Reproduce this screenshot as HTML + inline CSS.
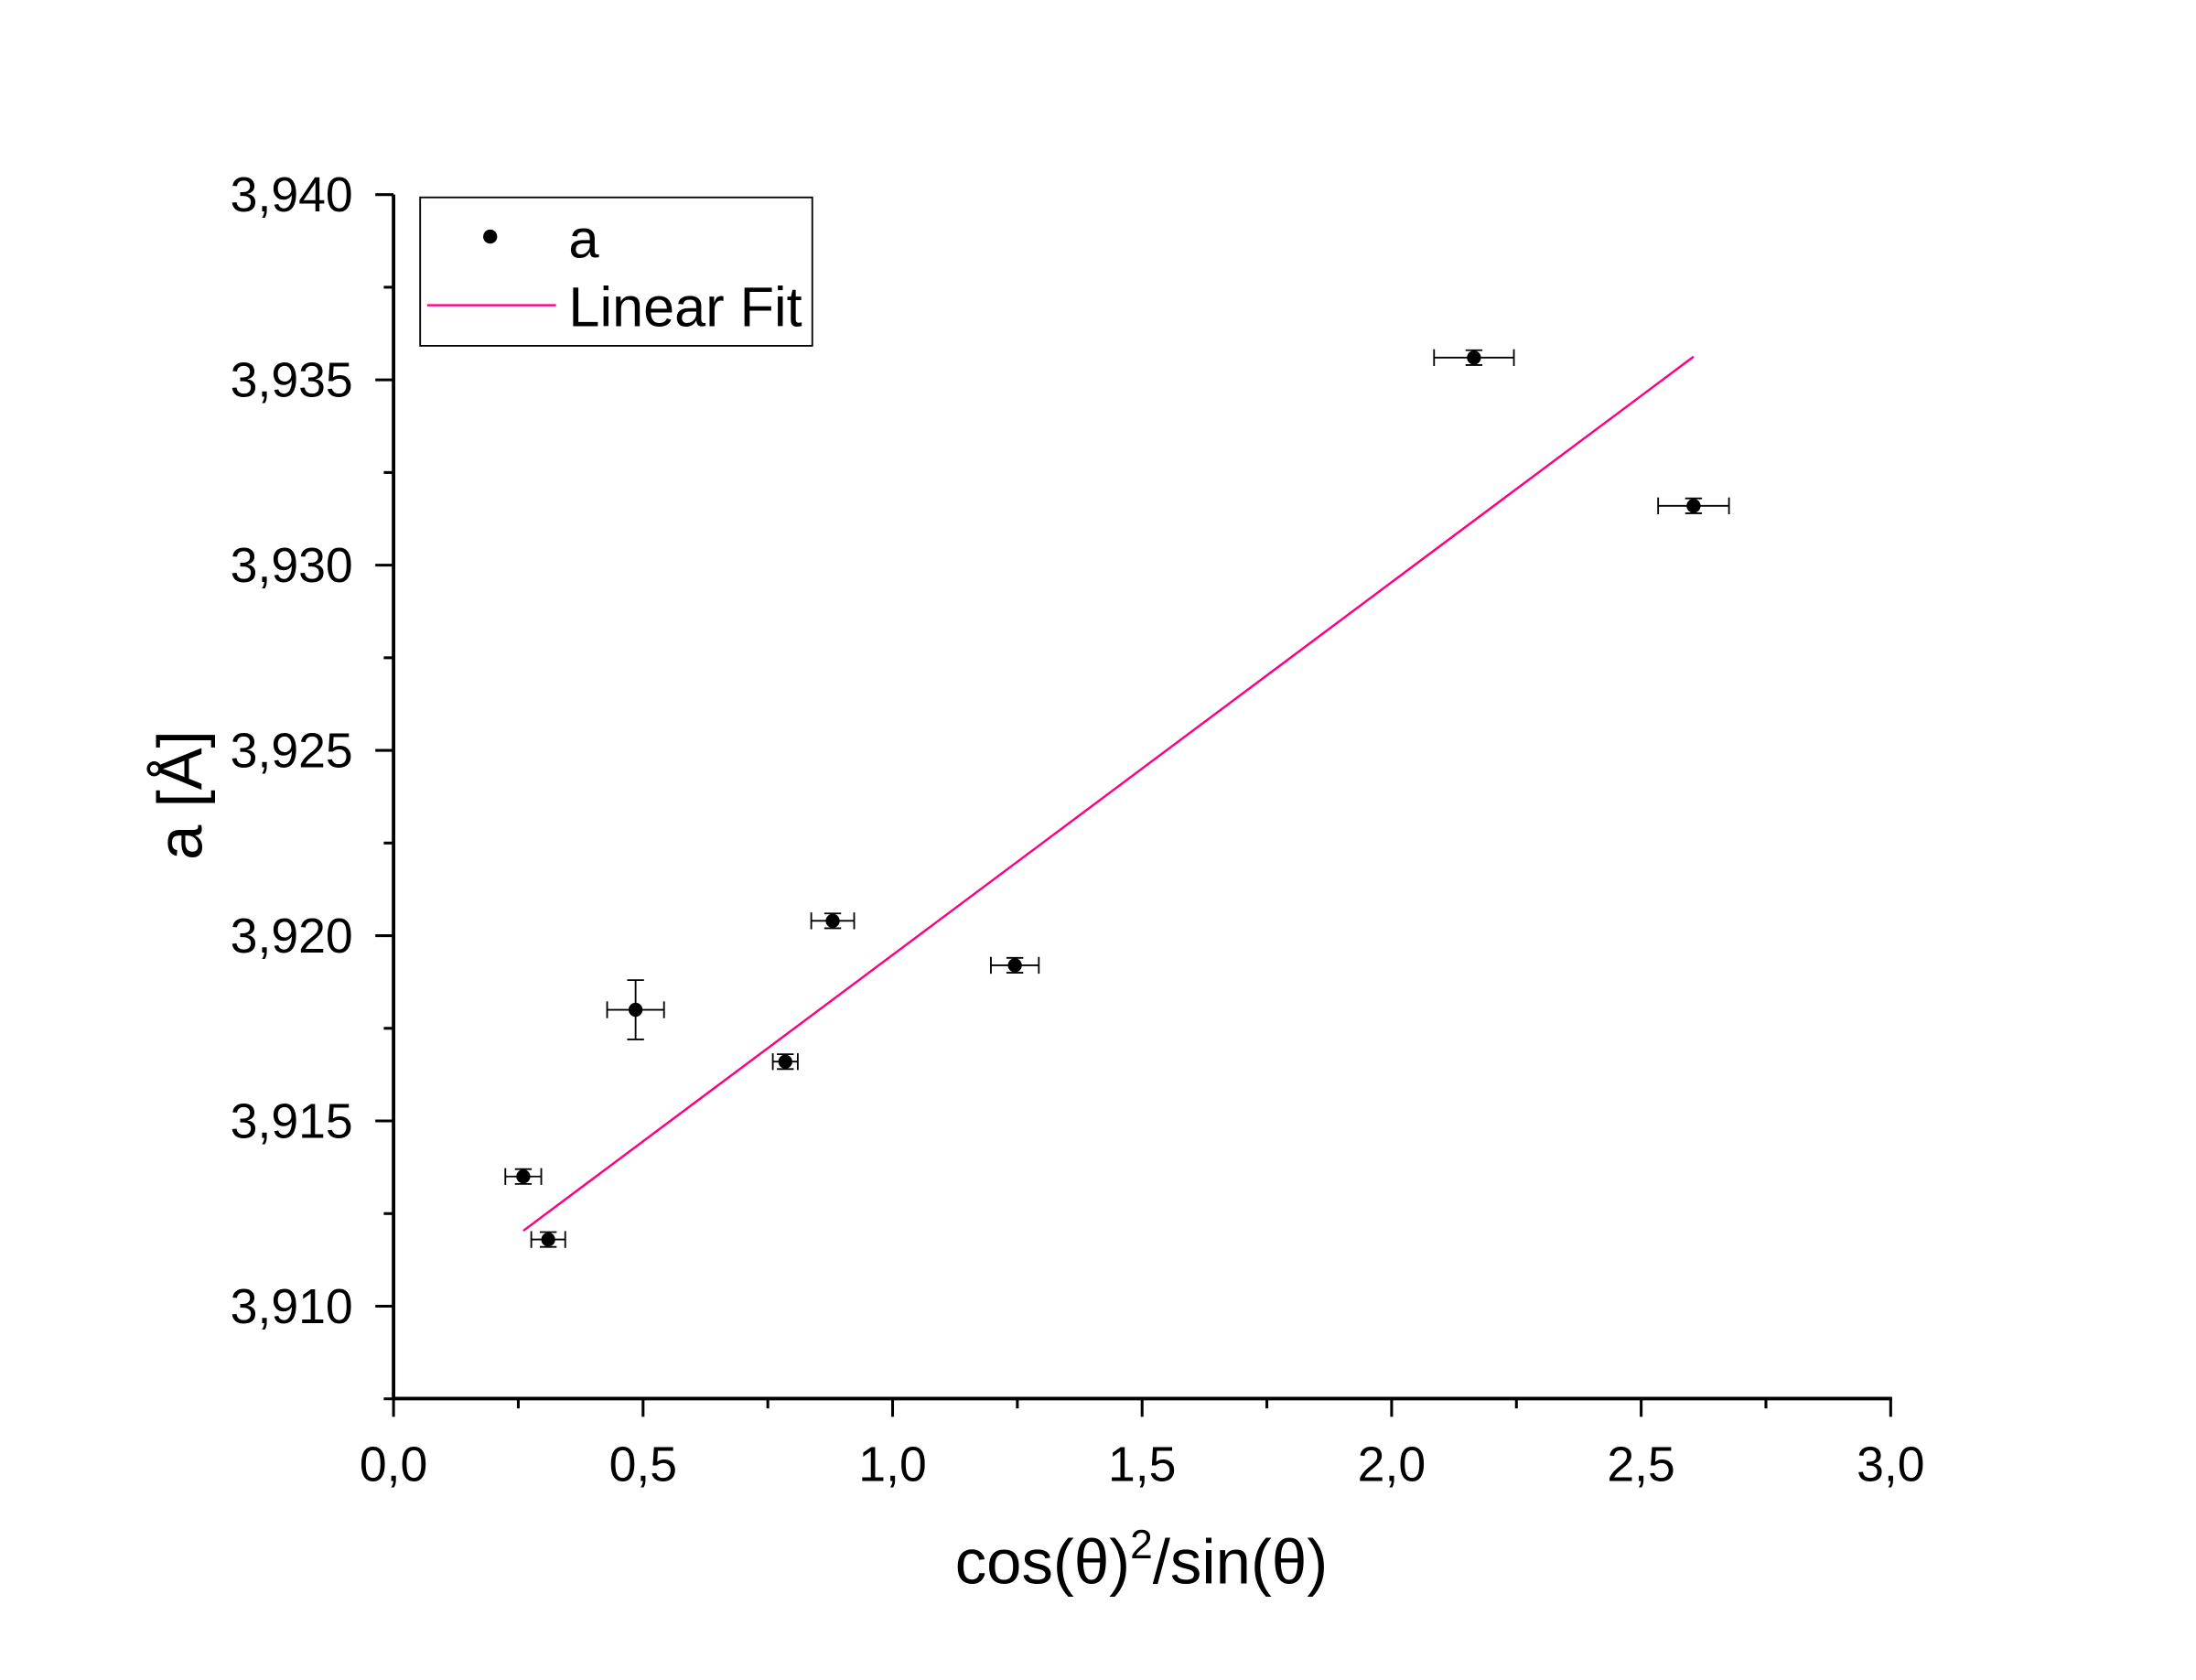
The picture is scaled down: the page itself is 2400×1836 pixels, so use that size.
<!DOCTYPE html>
<html><head><meta charset="utf-8"><style>html,body{margin:0;padding:0;background:#fff}svg{display:block}text{font-family:"Liberation Sans",Arial,sans-serif;fill:#000}</style></head>
<body>
<svg id="chart" width="2400" height="1836" viewBox="0 0 1568 1200" preserveAspectRatio="none" xmlns="http://www.w3.org/2000/svg">
<rect width="1568" height="1200" fill="#fff"/>
<g id="axes"></g>
<g id="marks"></g>
<text x="815" y="1131" font-size="45" text-anchor="middle">cos(θ)<tspan font-size="29" dy="-18">2</tspan><tspan dy="18">/sin(θ)</tspan></text>
<text transform="translate(144,568) rotate(-90)" font-size="45" text-anchor="middle">a [Å]</text>
<g>
<rect x="300" y="141" width="280" height="106" fill="#fff" stroke="#000" stroke-width="1.2"/>
<circle cx="350" cy="169" r="5" fill="#000"/>
<text x="406" y="184" font-size="39">a</text>
<line x1="305" y1="218" x2="397" y2="218" stroke="#ff0080" stroke-width="1.6"/>
<text x="406" y="233" font-size="40">Linear Fit</text>
</g>
</svg>
<script>
const xVals=[0.26,0.31,0.485,0.785,0.88,1.245,2.165,2.605];
const yVals=[3.9135,3.9118,3.9180,3.9166,3.9204,3.9192,3.9356,3.9316];
const xErr=[0.036,0.034,0.057,0.025,0.043,0.048,0.080,0.071];
const yErr=[0.0002,0.0002,0.0008,0.0002,0.0002,0.0002,0.0002,0.0002];
const fitX=[0.26,2.605];
const fitSlope=0.01006;
const fitIntercept=3.90942;
const xTicks=[0,0.5,1.0,1.5,2.0,2.5,3.0];
const xTickLabels=["0,0","0,5","1,0","1,5","2,0","2,5","3,0"];
const yTicks=[3.910,3.915,3.920,3.925,3.930,3.935,3.940];
const yTickLabels=["3,910","3,915","3,920","3,925","3,930","3,935","3,940"];
const NS="http://www.w3.org/2000/svg";
const X=v=>281+(v-0)/3*(1350-281);
const Y=v=>933-(v-3.910)/0.030*(933-139);
function mk(parent,tag,attrs){const e=document.createElementNS(NS,tag);for(const k in attrs)e.setAttribute(k,attrs[k]);parent.appendChild(e);return e;}
const ax=document.getElementById('axes'),mg=document.getElementById('marks');
let l=mk(ax,'line',{x1:281,y1:139,x2:281,y2:999,stroke:'#000','stroke-width':2.5});


l=mk(ax,'line',{x1:280,y1:999,x2:1351,y2:999,stroke:'#000','stroke-width':2.5});


xTicks.forEach((t,i)=>{const x=X(t);
 let e=mk(ax,'line',{x1:x,y1:999,x2:x,y2:1012,stroke:'#000','stroke-width':2});
 
 
 if(i<xTicks.length-1){const m=X(t+0.25);let e2=mk(ax,'line',{x1:m,y1:999,x2:m,y2:1006,stroke:'#000','stroke-width':2});
 
 }
 let tx=mk(ax,'text',{x:x,y:1058,'font-size':35,'text-anchor':'middle'});tx.textContent=xTickLabels[i];
 
 
});
yTicks.forEach((t,i)=>{const y=Y(t);
 let e=mk(ax,'line',{x1:268,y1:y,x2:281,y2:y,stroke:'#000','stroke-width':2});
 
 
 const m=Y(t-0.0025);let e2=mk(ax,'line',{x1:274,y1:m,x2:281,y2:m,stroke:'#000','stroke-width':2});
 
 
 let tx=mk(ax,'text',{x:252,y:y+12,'font-size':35,'text-anchor':'end'});tx.textContent=yTickLabels[i];
 
 
});
let fl=mk(mg,'line',{x1:X(fitX[0]),y1:Y(fitIntercept+fitSlope*fitX[0]),x2:X(fitX[1]),y2:Y(fitIntercept+fitSlope*fitX[1]),stroke:'#ff0080','stroke-width':1.6});


xVals.forEach((xv,i)=>{const cx=X(xv),cy=Y(yVals[i]);
 const g=mk(mg,'g',{stroke:'#000','stroke-width':1.2});
 
 
 const x1=X(xv-xErr[i]),x2=X(xv+xErr[i]),y1=Y(yVals[i]+yErr[i]),y2=Y(yVals[i]-yErr[i]);
 mk(g,'line',{x1:x1,y1:cy,x2:x2,y2:cy});
 mk(g,'line',{x1:x1,y1:cy-6,x2:x1,y2:cy+6});
 mk(g,'line',{x1:x2,y1:cy-6,x2:x2,y2:cy+6});
 mk(g,'line',{x1:cx,y1:y1,x2:cx,y2:y2});
 mk(g,'line',{x1:cx-6,y1:y1,x2:cx+6,y2:y1});
 mk(g,'line',{x1:cx-6,y1:y2,x2:cx+6,y2:y2});
 const c=mk(mg,'circle',{cx:cx,cy:cy,r:5,fill:'#000'});
 
 
});
</script>
</body></html>
